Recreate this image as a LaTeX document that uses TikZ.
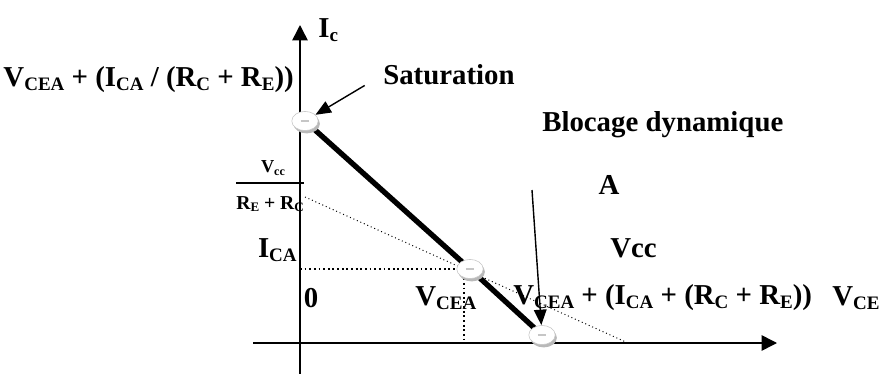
\documentclass[tikz,border=0pt]{standalone}
\usepackage{fontspec}
\setmainfont{Liberation Serif}
\usepackage{graphicx}
\usepackage{tikz}
\usetikzlibrary{arrows.meta,positioning,shapes.geometric,shadows}
\newcommand{\sbs}[1]{\raisebox{-0.3ex}{\scalebox{0.66}{#1}}}

\begin{document}
\begin{tikzpicture}[x=0.025cm,y=-0.025cm,
  lbl/.style={font=\fontsize{20.5}{24}\selectfont\bfseries,inner sep=0pt},
  axis/.style={line width=1.1pt,-{Triangle[length=11pt,width=11pt]}},
  pointer/.style={line width=1pt,-{Triangle[length=11pt,width=9pt]}},
  qpt/.style={ellipse,draw=gray!45,fill=white,minimum width=6.6mm,minimum height=4.8mm,
              inner sep=0pt,drop shadow={shadow xshift=1.2pt,shadow yshift=-2pt,fill=gray!55,opacity=1},
              path picture={\draw[line width=2pt]
                ([xshift=-3pt]path picture bounding box.center) --
                ([xshift=3pt]path picture bounding box.center);}},
  proj/.style={dotted,line width=1.3pt},
  load/.style={dotted,line width=0.7pt}]
\useasboundingbox (0,0) rectangle (888,374);
% axes
\coordinate (O) at (300,343);
\coordinate (ybot) at (300,374);
\coordinate (ytop) at (300,25);
\coordinate (xbeg) at (253,343);
\coordinate (xend) at (777,343);
\coordinate (cut) at (628,343);
\draw[axis] (ybot) -- (ytop);
\draw[axis] (xbeg) -- (xend);
\node[lbl,anchor=west] (ic) at (318,30) {I\sbs{c}};
\node[lbl,anchor=west] (vce) at (832,298) {V\sbs{CE}};
\node[lbl] (zero) at (311,298) {0};
% Vcc/(RE+RC)
\node[font=\fontsize{13}{14}\selectfont\bfseries,inner sep=0pt] (num) at (273,168) {V\sbs{cc}};
\node[font=\fontsize{14}{15}\selectfont\bfseries,inner sep=0pt,anchor=west] (den) at (236,204)
   {R\sbs{E} + R\sbs{C}};
\draw[line width=1.8pt] (236,183) -- (304,183);
\coordinate (vr) at (305,197);
\draw[load] (vr) -- (cut);
% load line
\coordinate (s) at (305,121);
\coordinate (q) at (470,269);
\coordinate (b) at (542,335);
\draw[proj] (O |- q) -- (q);
\draw[proj] ([xshift=-4pt]q) -- ([xshift=-4pt]q |- O);
\draw[line width=3.8pt] (s) -- (q) -- (b);
\node[qpt] (S) at (s) {};
\node[qpt] (Q) at (q) {};
\node[qpt] (B) at (b) {};
% labels
\node[lbl,anchor=east] (vsat) at (294,80)
   {V\sbs{CEA} + (I\sbs{CA} / (R\sbs{C} + R\sbs{E}))};
\node[lbl,anchor=west] (sat) at (383,75) {Saturation};
\draw[pointer] ([xshift=-13pt]sat.south west) -- (S);
\node[lbl,anchor=west] (blk) at (542,125) {Blocage dynamique};
\node[lbl] (ptA) at (609,185) {A};
\node[lbl,anchor=west] (vcc) at (610,248) {Vcc};
\coordinate (bl) at (532,190);
\draw[pointer] (bl) -- (B);
\node[lbl,anchor=east] (ica) at (297,250) {I\sbs{CA}};
\node[lbl,anchor=west] (vcea) at (415,298) {V\sbs{CEA}};
\node[lbl,anchor=west] (vmax) at (513,298)
   {V\sbs{CEA} + (I\sbs{CA} + (R\sbs{C} + R\sbs{E}))};
\end{tikzpicture}
\end{document}
